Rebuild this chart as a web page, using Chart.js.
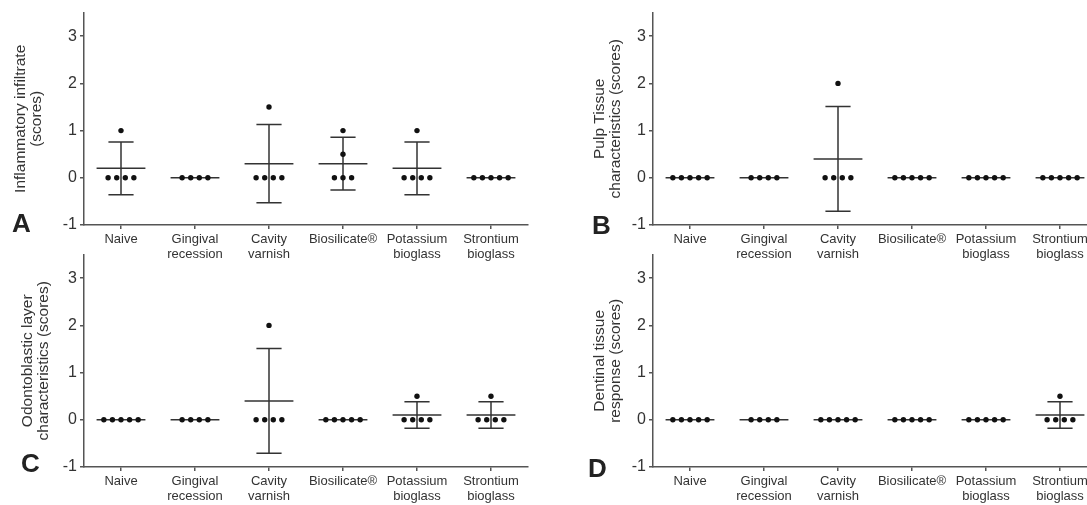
<!DOCTYPE html>
<html>
<head>
<meta charset="utf-8">
<script src="https://cdn.jsdelivr.net/npm/chart.js@4.4.0/dist/chart.umd.min.js"></script>
<style>
  html, body { margin: 0; padding: 0; background: #fff; width: 1087px; height: 505px; overflow: hidden; }
  body { position: relative; }
  canvas { position: absolute; }
  .letter { position: absolute; font: bold 26px "Liberation Sans", Arial, sans-serif; color: #222; line-height: 26px; }
</style>
</head>
<body>
<canvas id="chartA" width="570" height="265" style="left:0;top:0"></canvas>
<canvas id="chartB" width="570" height="265" style="left:540px;top:0"></canvas>
<canvas id="chartC" width="570" height="265" style="left:0;top:242px"></canvas>
<canvas id="chartD" width="570" height="265" style="left:540px;top:242px"></canvas>
<div class="letter" style="left:12px;top:210px">A</div>
<div class="letter" style="left:592px;top:212px">B</div>
<div class="letter" style="left:21px;top:450px">C</div>
<div class="letter" style="left:588px;top:455px">D</div>
<script>
// groups on the x axis
const categories = ['Naive', ['Gingival', 'recession'], ['Cavity', 'varnish'], 'Biosilicate®', ['Potassium', 'bioglass'], ['Strontium', 'bioglass']];
const yTicks = [-1, 0, 1, 2, 3];

// A - inflammatory infiltrate
const scoresA = [[0, 0, 0, 0, 1], [0, 0, 0, 0], [0, 0, 0, 0, 1.5], [0, 0, 0, 0.5, 1], [0, 0, 0, 0, 1], [0, 0, 0, 0, 0]];
const meanA = [0.2, 0, 0.3, 0.3, 0.2, 0];
const errA = [0.56, 0, 0.83, 0.56, 0.56, 0];

// B - pulp tissue
const scoresB = [[0, 0, 0, 0, 0], [0, 0, 0, 0], [0, 0, 0, 0, 2], [0, 0, 0, 0, 0], [0, 0, 0, 0, 0], [0, 0, 0, 0, 0]];
const meanB = [0, 0, 0.4, 0, 0, 0];
const errB = [0, 0, 1.11, 0, 0, 0];

// C - odontoblastic layer
const scoresC = [[0, 0, 0, 0, 0], [0, 0, 0, 0], [0, 0, 0, 0, 2], [0, 0, 0, 0, 0], [0, 0, 0, 0, 0.5], [0, 0, 0, 0, 0.5]];
const meanC = [0, 0, 0.4, 0, 0.1, 0.1];
const errC = [0, 0, 1.11, 0, 0.28, 0.28];

// D - dentinal tissue
const scoresD = [[0, 0, 0, 0, 0], [0, 0, 0, 0], [0, 0, 0, 0, 0], [0, 0, 0, 0, 0], [0, 0, 0, 0, 0], [0, 0, 0, 0, 0.5]];
const meanD = [0, 0, 0, 0, 0, 0.1];
const errD = [0, 0, 0, 0, 0, 0.28];

const FONT = '"Liberation Sans", Arial, sans-serif';
const TEXT = '#333';
const AXIS = '#555';
const DOT_STEP = 0.116;   // spacing of tied dots, in group units
const MEAN_HALF = 0.33;
const CAP_HALF = 0.17;

// spread tied values side by side
function dotPoints(groups) {
    const pts = [];
    groups.forEach((vals, i) => {
        const counts = {};
        vals.forEach(v => counts[v] = (counts[v] || 0) + 1);
        Object.keys(counts).forEach(k => {
            const n = counts[k];
            for (let j = 0; j < n; j++) {
                pts.push({ x: i + (j - (n - 1) / 2) * DOT_STEP, y: +k });
            }
        });
    });
    return pts;
}

// mean line + error bars, drawn under the dots
function meanPlugin(means, errors) {
    return {
        id: 'meanBars',
        beforeDatasetsDraw(chart) {
            const { ctx, scales: { x, y } } = chart;
            const unit = x.getPixelForValue(1) - x.getPixelForValue(0);
            ctx.save();
            ctx.strokeStyle = '#333';
            ctx.lineWidth = 1.5;
            means.forEach((m, i) => {
                const cx = x.getPixelForValue(i);
                const my = y.getPixelForValue(m);
                ctx.beginPath();
                ctx.moveTo(cx - unit * MEAN_HALF, my);
                ctx.lineTo(cx + unit * MEAN_HALF, my);
                const e = errors[i];
                if (e > 0) {
                    const top = y.getPixelForValue(m + e);
                    const bot = y.getPixelForValue(m - e);
                    ctx.moveTo(cx, top); ctx.lineTo(cx, bot);
                    ctx.moveTo(cx - unit * CAP_HALF, top); ctx.lineTo(cx + unit * CAP_HALF, top);
                    ctx.moveTo(cx - unit * CAP_HALF, bot); ctx.lineTo(cx + unit * CAP_HALF, bot);
                }
                ctx.stroke();
            });
            ctx.restore();
        }
    };
}

function makePanel(id, p) {
    return new Chart(document.getElementById(id), {
        type: 'scatter',
        data: {
            datasets: [{
                data: dotPoints(p.scores),
                pointRadius: 2.7,
                pointBackgroundColor: '#111',
                pointBorderWidth: 0
            }]
        },
        options: {
            responsive: false,
            animation: false,
            layout: { padding: { top: 12, right: p.padRight, bottom: 0, left: 0 } },
            plugins: { legend: { display: false }, tooltip: { enabled: false } },
            scales: {
                x: {
                    type: 'linear', min: -0.5, max: 5.5,
                    afterBuildTicks: s => { s.ticks = categories.map((c, i) => ({ value: i })); },
                    afterFit: s => { s.height = 40; },
                    grid: { drawOnChartArea: false, tickLength: 4, color: AXIS, lineWidth: 1.5 },
                    border: { color: AXIS, width: 1.5 },
                    ticks: {
                        callback: v => categories[v],
                        font: { size: 13, family: FONT, lineHeight: 1.15 },
                        color: TEXT, padding: 3, maxRotation: 0, autoSkip: false
                    }
                },
                y: {
                    min: -1, max: 3.5,
                    afterBuildTicks: s => { s.ticks = yTicks.map(v => ({ value: v })); },
                    afterFit: s => { s.width = p.yWidth; },
                    grid: { drawOnChartArea: false, tickLength: 4, color: AXIS, lineWidth: 1.5 },
                    border: { color: AXIS, width: 1.5 },
                    ticks: { font: { size: 16, family: FONT }, color: TEXT, padding: 3 },
                    title: {
                        display: true, text: p.title, color: TEXT,
                        font: { size: 15.5, family: FONT, lineHeight: 1.08 },
                        padding: { top: p.titlePad, bottom: 0 }
                    }
                }
            }
        },
        plugins: [meanPlugin(p.means, p.errors)]
    });
}

makePanel('chartA', { scores: scoresA, means: meanA, errors: errA, title: ['Inflammatory infiltrate', '(scores)'], yWidth: 84, padRight: 42, titlePad: 12 });
makePanel('chartB', { scores: scoresB, means: meanB, errors: errB, title: ['Pulp Tissue', 'characteristics (scores)'], yWidth: 113, padRight: 13, titlePad: 51 });
makePanel('chartC', { scores: scoresC, means: meanC, errors: errC, title: ['Odontoblastic layer', 'characteristics (scores)'], yWidth: 84, padRight: 42, titlePad: 19 });
makePanel('chartD', { scores: scoresD, means: meanD, errors: errD, title: ['Dentinal tissue', 'response (scores)'], yWidth: 113, padRight: 13, titlePad: 51 });
</script>
</body>
</html>
